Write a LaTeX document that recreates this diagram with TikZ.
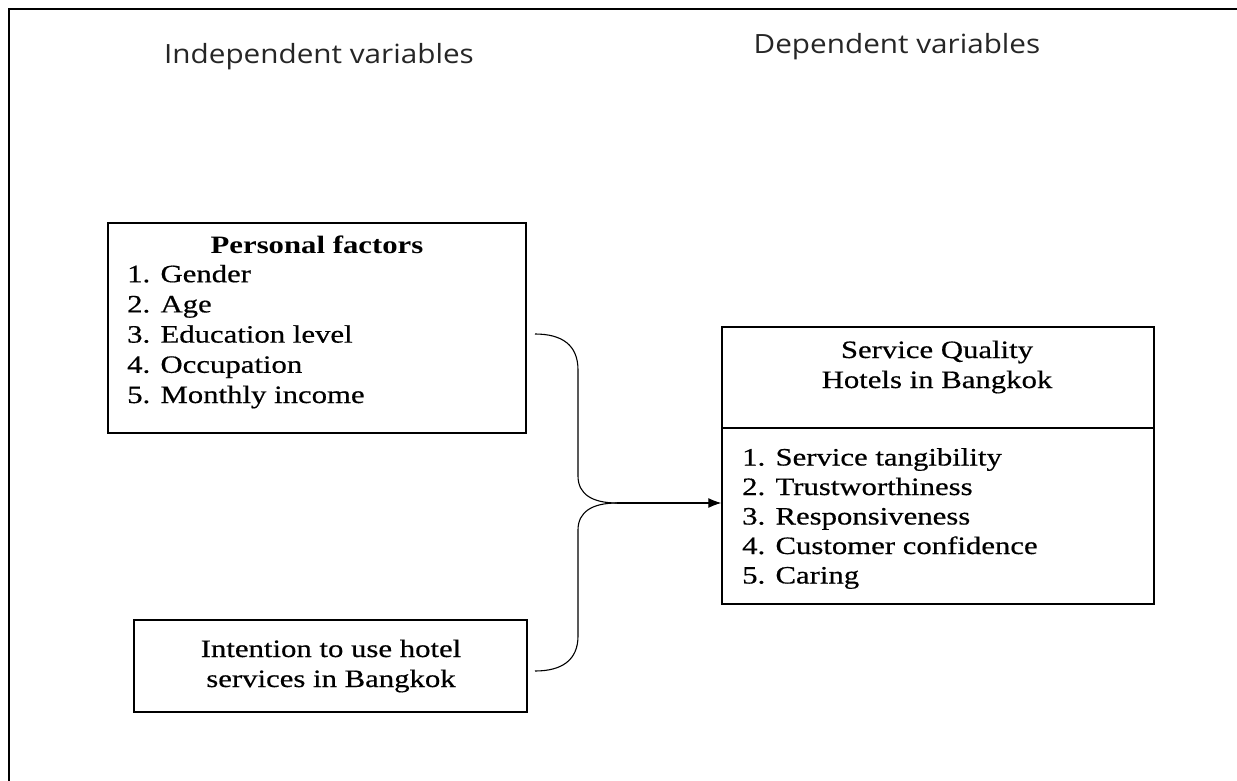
\documentclass[tikz,border=0pt]{standalone}
\usepackage{fontspec}
\newfontfamily\bodyfont{Liberation Serif}[FakeStretch=1.23, UprightFeatures={FakeBold=0.5}]
\newfontfamily\headfont{Open Sans}[FakeStretch=1.12]
\usetikzlibrary{arrows.meta}
\begin{document}
\begin{tikzpicture}[x=1pt,y=-1pt,
  box/.style={draw, line width=1.3pt, inner sep=0pt},
  body/.style={font=\bodyfont\fontsize{25}{30}\selectfont, inner sep=0pt},
  head/.style={font=\headfont\fontsize{26.5}{30}\selectfont, inner sep=0pt, text=black!85},
  conn/.style={line width=1.1pt}]
\useasboundingbox (0,0) rectangle (1237,781);
\draw[line width=1.5pt] (1240,9) -- (9,9) -- (9,785);

% headers
\node[head, anchor=base] (hind) at (319,64) {Independent variables};
\node[head, anchor=base] (hdep) at (897,54) {Dependent variables};

% personal factors
\node[box, minimum width=418pt, minimum height=210pt] (pf) at (317,328) {};
\node[body, anchor=base] (pft) at (317,253) {\bfseries Personal factors};
\foreach \t [count=\i] in {Gender, Age, Education level, Occupation, Monthly income}
  \node[body, anchor=base west] (pf\i) at (127,{252+30.2*\i}) {\i. \t};

% intention
\node[box, minimum width=393pt, minimum height=92pt] (it) at (330.5,666) {};
\node[body, anchor=base] (it1) at (331,657) {Intention to use hotel};
\node[body, anchor=base] (it2) at (331,687) {services in Bangkok};

% service quality
\node[box, minimum width=432pt, minimum height=277pt] (sq) at (938,465.5) {};
\draw[box] (sq.west |- 0,428) -- (sq.east |- 0,428);
\node[body, anchor=base] (sqt1) at (937,358) {Service Quality};
\node[body, anchor=base] (sqt2) at (937,388) {Hotels in Bangkok};
\foreach \t [count=\i] in {Service tangibility, Trustworthiness, Responsiveness, Customer confidence, Caring}
  \node[body, anchor=base west] (sq\i) at (742,{436+29.5*\i}) {\i. \t};

% connectors
\coordinate (a1) at (535,334);
\coordinate (a2) at (535,671);
\coordinate (m) at (617,503);
\draw[conn] (a1) .. controls (562,334) and (578,345) .. (578,370)
  -- (578,476) .. controls (578,494) and (592,503) .. (m);
\draw[conn] (a2) .. controls (562,671) and (578,660) .. (578,636)
  -- (578,530) .. controls (578,512) and (592,503) .. (m);
\draw[conn, -{Latex[length=13pt,width=10pt]}] (m) -- (sq.west |- m);
\end{tikzpicture}
\end{document}
